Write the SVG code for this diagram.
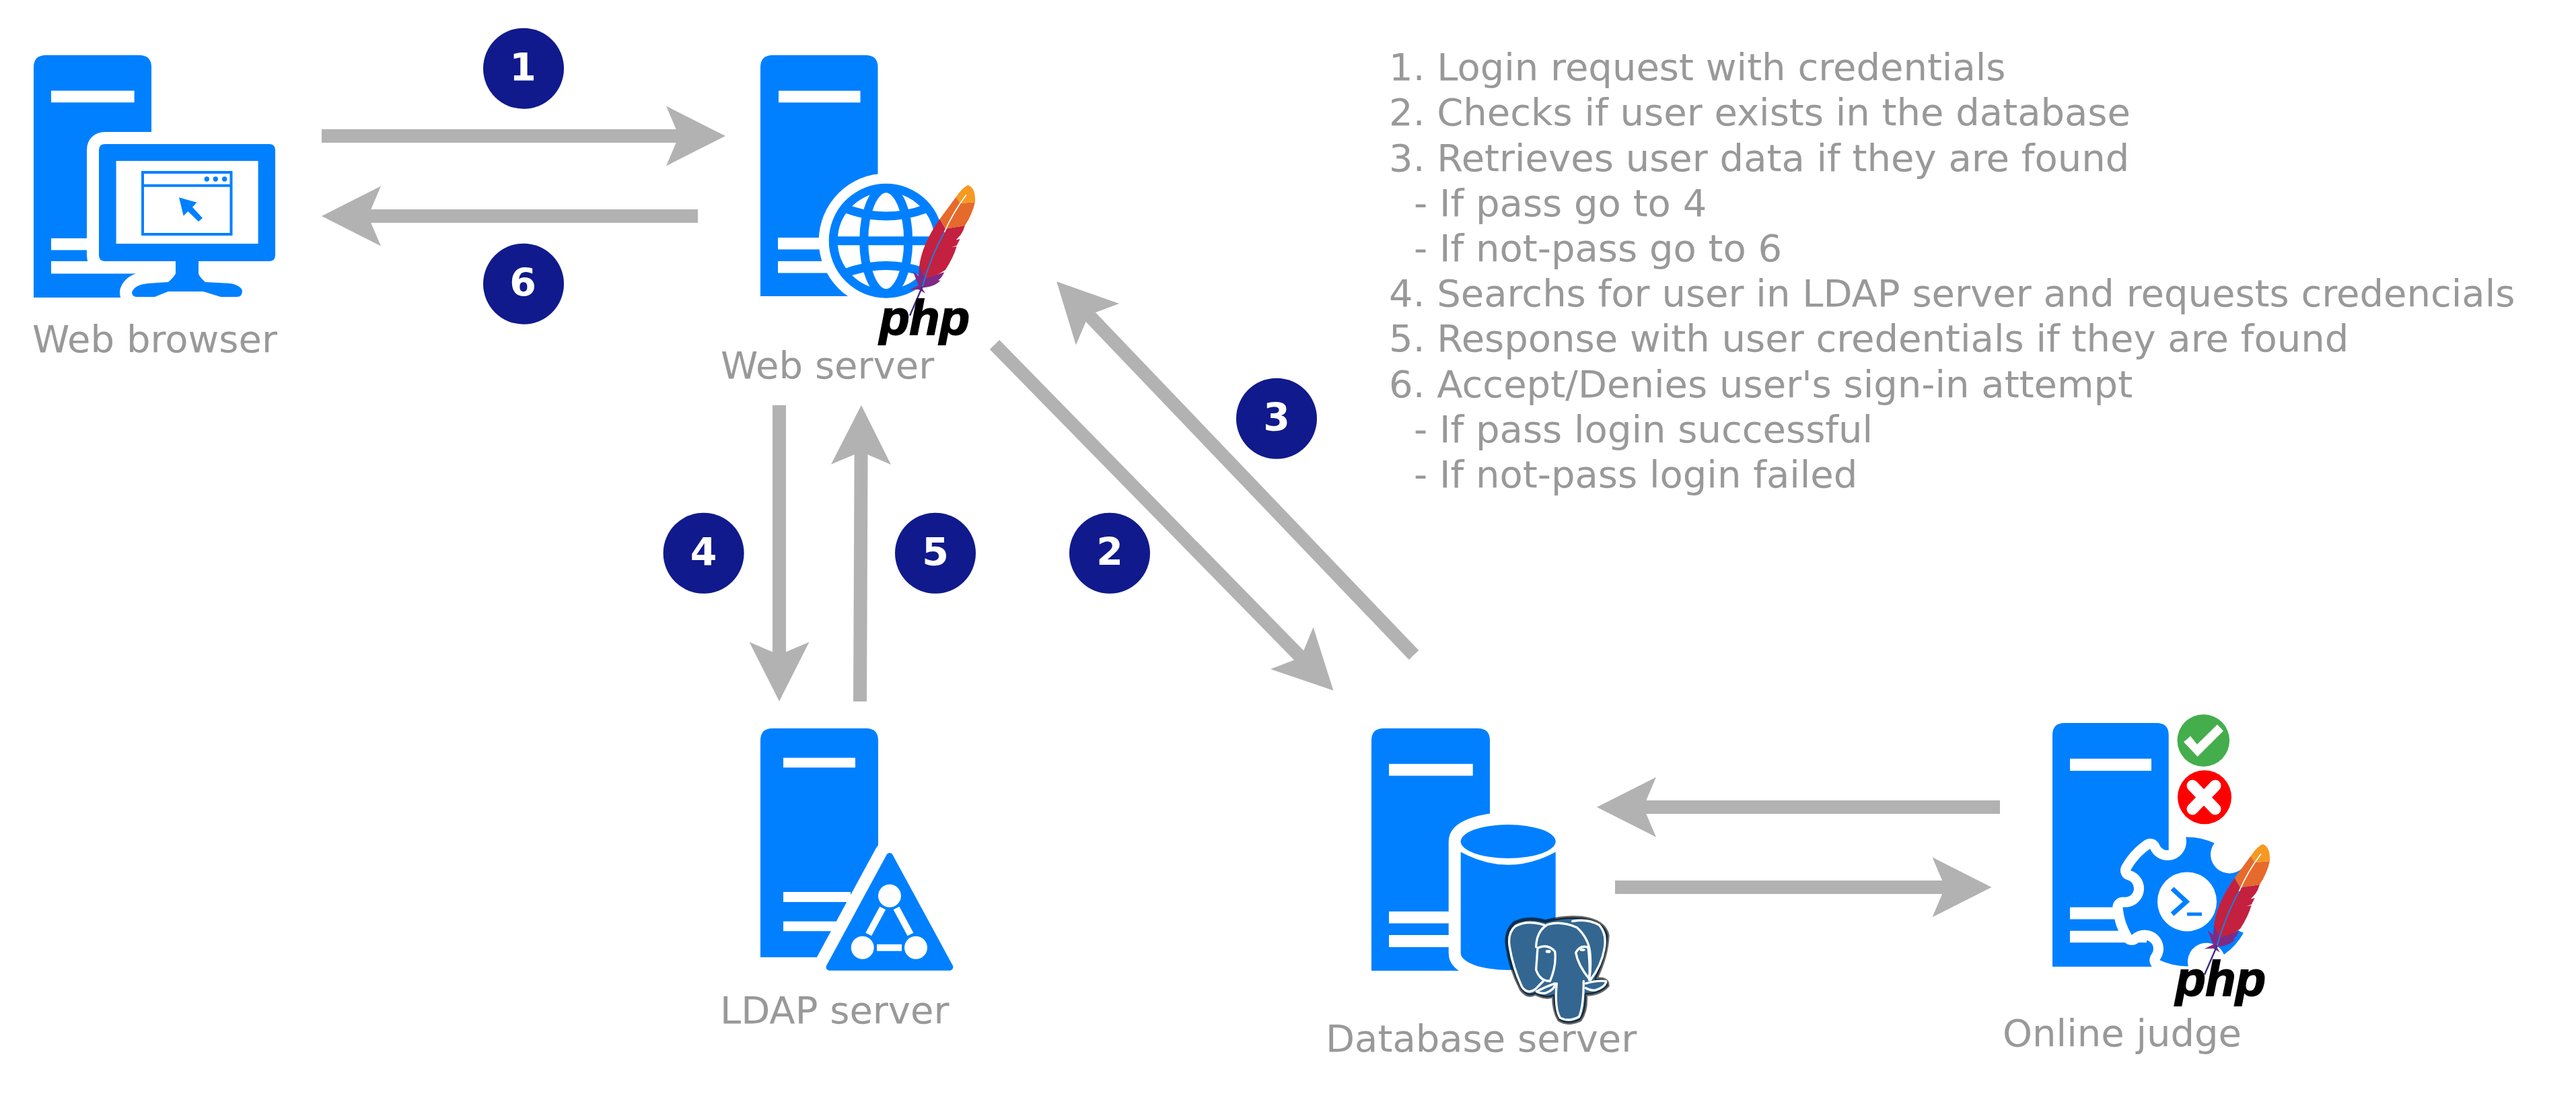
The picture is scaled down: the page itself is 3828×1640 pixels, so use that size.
<svg xmlns="http://www.w3.org/2000/svg" xmlns:xlink="http://www.w3.org/1999/xlink" width="3828" height="1640" viewBox="0 0 3828 1640">
<style>
.b{fill:#0080ff}
.w{fill:#fff}
.h{fill:#fff;stroke:#fff;stroke-linejoin:round}
.a{fill:none;stroke:#b2b2b2;stroke-width:20}
.t{font-family:"DejaVu Sans","Liberation Sans",sans-serif;font-size:56px;fill:#999}
.n{font-family:"DejaVu Sans","Liberation Sans",sans-serif;font-size:57px;font-weight:700;fill:#fff;text-anchor:middle}
.c{fill:#101a8c}
.p{font-family:"Liberation Sans",Arial,sans-serif;font-size:73px;font-weight:700;font-style:italic;fill:#000;stroke:#000;stroke-width:2}
.el{fill:none;stroke:#fff;stroke-width:10;stroke-linejoin:round;stroke-linecap:round}
</style>
<defs>
<marker id="ah" markerUnits="userSpaceOnUse" markerWidth="92" markerHeight="92" viewBox="0 -46 92 92" refX="68" refY="0" orient="auto">
<path d="M88 0L0 44.5L19 0L0 -44.5Z" fill="#b2b2b2"/>
</marker>
<g id="feather"><g transform="translate(1050 40) scale(.3333 .3589)">
<path fill="#7f2a84" d="M948 992L975 1040L1060 1015Q1048 1040 1033 1048L1042 1050Q1020 1075 960 1080L975 1103L945 1087L905 1088L945 1070L920 1012L945 1030Z"/>
<path fill="#c4203f" d="M1040 795L1065 835L1152 822Q1145 845 1133 860L1112 882L1130 878L1115 905L1093 911L1115 908Q1100 955 1065 1005Q1030 1030 975 1040L948 992Q960 900 1040 795Z"/>
<path fill="#e66a2b" d="M1040 795L1113 703L1130 730L1197 725Q1185 775 1152 822L1065 835Z"/>
<path fill="#f69923" d="M1113 703Q1140 665 1165 655Q1200 665 1197 725L1130 730Z"/>
<path fill="none" stroke="#fff" stroke-width="5" d="M1060 850Q1100 765 1158 695"/>
<path fill="none" stroke="#1c7fe0" stroke-width="6" d="M962 1075Q1000 950 1060 850"/>
<path fill="none" stroke="#3b2a86" stroke-width="7" d="M962 1075L906 1195"/>
</g></g>
</defs>

<g id="connectors">
<path class="a" marker-end="url(#ah)" d="M478 202H1058"/>
<path class="a" marker-end="url(#ah)" d="M1037 321H498"/>
<path class="a" marker-end="url(#ah)" d="M1478 512L1967.400 1011.400"/>
<path class="a" marker-end="url(#ah)" d="M2101 973L1584 432.700"/>
<path class="a" marker-end="url(#ah)" d="M1158 602V1021.700"/>
<path class="a" marker-end="url(#ah)" d="M1278 1042L1279.800 622"/>
<path class="a" marker-end="url(#ah)" d="M2972 1199H2393"/>
<path class="a" marker-end="url(#ah)" d="M2400 1318H2939.500"/>
</g>

<g id="web-browser">
<path class="b" d="M50 442V100Q50 82 68 82H207Q225 82 225 100V442Z"/>
<rect class="w" x="76" y="134.700" width="123.600" height="17.500"/>
<rect class="w" x="76" y="354" width="120" height="17.500"/>
<rect class="w" x="76" y="388" width="160" height="18.500"/>
<path class="h" stroke-width="36" d="M156 214H400Q409 214 409 223V379Q409 388 400 388H295V406Q295 410 305 419L342 421Q358 424 360 432Q360 441 352 441H203Q196 441 196 434Q200 423 220 421L250 419Q260 410 261 406V388H156Q147 388 147 379V223Q147 214 156 214Z"/>
<rect class="w" x="226" y="200" width="200" height="20"/>
<rect class="w" x="225" y="420" width="160" height="40"/>
<path class="b" d="M156 214H400Q409 214 409 223V379Q409 388 400 388H295V406Q295 410 305 419L342 421Q358 424 360 432Q360 441 352 441H328L302 433H250L230 441H203Q196 441 196 434Q200 423 220 421L250 419Q260 410 261 406V388H156Q147 388 147 379V223Q147 214 156 214Z"/>
<rect class="w" x="172.600" y="239" width="211" height="123"/>
<rect x="212" y="256" width="131.500" height="92" fill="none" stroke="#0080ff" stroke-width="4"/>
<rect class="b" x="212" y="273.700" width="131.500" height="4"/>
<circle class="b" cx="307.300" cy="266" r="3.700"/><circle class="b" cx="320.300" cy="266" r="3.700"/><circle class="b" cx="333.700" cy="266" r="3.700"/>
<path class="b" d="M266 293.300L292.300 300.700L286 307.700L301 324L295 329L279.300 314L272.700 320.700Z"/>
<text class="t" x="48" y="523">Web browser</text>
</g>

<g id="web-server">
<path class="b" d="M1130 440V100Q1130 82 1148 82H1286.500Q1304.500 82 1304.500 100V440Z"/>
<rect class="w" x="1157" y="134.800" width="121.500" height="17.500"/>
<rect class="w" x="1156" y="353" width="80" height="17.500"/>
<rect class="w" x="1156" y="388" width="80" height="17.500"/>
<circle class="w" cx="1316.700" cy="357.700" r="100"/>
<g fill="none" stroke="#0080ff" stroke-width="13">
<circle cx="1316.700" cy="357.700" r="78.500"/>
<ellipse cx="1316.700" cy="357.700" rx="33" ry="78"/>
<path d="M1238 357.700H1395"/>
<path d="M1257 310Q1317 332 1376 310"/>
<path d="M1257 405.400Q1317 383.400 1376 405.400"/>
</g>
<use href="#feather"/>
<text class="p" x="1307" y="497">php</text>
<text class="t" x="1071" y="562">Web server</text>
</g>

<g id="ldap-server">
<path class="b" d="M1130 1422V1100Q1130 1082 1148 1082H1287Q1305 1082 1305 1100V1422Z"/>
<rect class="w" x="1164" y="1125.700" width="107" height="14.500"/>
<rect class="w" x="1164" y="1325" width="100" height="15"/>
<rect class="w" x="1164" y="1368.700" width="80" height="14.500"/>
<path class="h" stroke-width="47" d="M1322 1272L1411.400 1436.700H1232.600Z"/>
<rect class="w" x="1200" y="1422" width="230" height="30"/>
<path class="b" stroke="#0080ff" stroke-width="10" stroke-linejoin="round" d="M1322 1272L1411.400 1436.700H1232.600Z"/>
<g class="w">
<circle cx="1322" cy="1330.700" r="17"/><circle cx="1281.700" cy="1407.700" r="17"/><circle cx="1361" cy="1407.700" r="17"/>
</g>
<path fill="none" stroke="#fff" stroke-width="10" d="M1290.700 1388L1311.700 1349M1332 1349L1353 1388M1303 1407.700H1340"/>
<text class="t" x="1070" y="1520">LDAP server</text>
</g>

<g id="database-server">
<path class="b" d="M2038 1442V1100Q2038 1082 2056 1082H2196Q2214 1082 2214 1100V1442Z"/>
<rect class="w" x="2064" y="1134.800" width="124.700" height="17.600"/>
<rect class="w" x="2064" y="1354" width="100" height="17.600"/>
<rect class="w" x="2064" y="1389" width="100" height="18"/>
<path class="h" stroke-width="36" d="M2170.700 1250A70.500 25 0 0 1 2311.700 1250V1416A70.500 25 0 0 1 2170.700 1416Z"/>
<path class="b" d="M2170.700 1265.600Q2241 1304 2311.700 1265.600V1416A70.500 25 0 0 1 2170.700 1416Z"/>
<ellipse class="b" cx="2241.200" cy="1250" rx="70.500" ry="25"/>
<g transform="translate(1960 1060) scale(.3333 .3398)">
<path fill="#336791" stroke="#000" stroke-opacity=".6" stroke-width="14" stroke-linejoin="round" d="M1010 908Q930 885 870 915Q830 950 837 1010Q850 1110 900 1205Q930 1245 965 1225Q1010 1250 1045 1235Q1045 1300 1070 1340Q1110 1365 1165 1340Q1195 1300 1190 1228Q1250 1230 1288 1190Q1290 1155 1235 1160Q1285 1060 1288 970Q1275 905 1170 892Q1090 885 1010 908Z"/>
<path class="el" d="M1005 925Q930 900 875 930Q840 960 850 1020Q865 1110 905 1195Q930 1230 965 1205L1000 1170"/>
<path class="el" d="M968 1020Q970 950 1020 922Q1080 905 1150 935Q1200 980 1208 1040Q1215 1100 1205 1165"/>
<path class="el" d="M1060 1180Q1050 1290 1075 1330Q1115 1350 1160 1325Q1180 1280 1180 1170"/>
<path class="el" d="M1130 908Q1200 895 1250 925Q1285 965 1272 1030Q1260 1100 1210 1165"/>
<path class="el" d="M975 1025Q1020 1005 1052 1040Q1060 1100 1030 1170Q985 1170 968 1120L975 1025"/>
<path class="el" d="M1145 1045Q1165 1010 1200 1022Q1210 1100 1205 1160Q1155 1100 1145 1045Z"/>
<path class="el" d="M970 1215Q1010 1195 1052 1180Q1055 1205 1010 1222Q985 1225 970 1215Z"/>
<path class="el" d="M1190 1180Q1240 1165 1280 1170Q1280 1195 1230 1210Q1205 1210 1190 1200"/>
<ellipse class="w" cx="1022" cy="1040" rx="12" ry="7"/>
<ellipse class="w" cx="1175" cy="1033" rx="12" ry="6"/>
</g>
<text class="t" x="1970" y="1562">Database server</text>
</g>

<g id="online-judge">
<path class="b" d="M3050 1436V1092Q3050 1074 3068 1074H3204.700Q3222.700 1074 3222.700 1092V1436Z"/>
<rect class="w" x="3076" y="1127" width="121" height="18"/>
<rect class="w" x="3076" y="1347.700" width="90" height="17.800"/>
<rect class="w" x="3076" y="1382.700" width="114" height="17.500"/>
<path class="h" stroke-width="30" d="M3248.200 1243.400A96 96 0 0 1 3290.700 1252.500A28 28 0 0 0 3332.200 1289.800A96 96 0 0 1 3345.600 1331.200A28 28 0 0 0 3334 1385.800A96 96 0 0 1 3304.900 1418.100A28 28 0 0 0 3251.800 1435.400A96 96 0 0 1 3209.300 1426.300A28 28 0 0 0 3167.800 1389A96 96 0 0 1 3154.400 1347.600A28 28 0 0 0 3166 1293A96 96 0 0 1 3195.100 1260.700A28 28 0 0 0 3248.200 1243.400Z"/>
<path class="b" d="M3248.200 1243.400A96 96 0 0 1 3290.700 1252.500A28 28 0 0 0 3332.200 1289.800A96 96 0 0 1 3345.600 1331.200A28 28 0 0 0 3334 1385.800A96 96 0 0 1 3304.900 1418.100A28 28 0 0 0 3251.800 1435.400A96 96 0 0 1 3209.300 1426.300A28 28 0 0 0 3167.800 1389A96 96 0 0 1 3154.400 1347.600A28 28 0 0 0 3166 1293A96 96 0 0 1 3195.100 1260.700A28 28 0 0 0 3248.200 1243.400Z"/>
<circle class="w" cx="3250" cy="1339.400" r="44"/>
<path fill="none" stroke="#0080ff" stroke-width="7" d="M3228 1320L3249 1339.500L3228 1358"/>
<rect class="b" x="3250" y="1355.500" width="22" height="5"/>
<circle cx="3274.300" cy="1100" r="38.800" fill="#43ae4b"/>
<path class="w" d="M3245 1102.300L3255 1093.600L3265 1105.800L3295 1076.300L3304 1085.700L3265.700 1124Z"/>
<circle cx="3276" cy="1184.300" r="40" fill="#f00"/>
<path fill="none" stroke="#fff" stroke-width="17" stroke-linecap="round" d="M3258 1167L3292 1202M3292 1167L3258 1202"/>
<use href="#feather" transform="translate(1924 979)"/>
<text class="p" x="3233" y="1479">php</text>
<text class="t" x="2976" y="1554">Online judge</text>
</g>

<g id="badges">
<g id="badge-1"><circle class="c" cx="778" cy="101.700" r="60"/><text class="n" x="777" y="120">1</text></g>
<g id="badge-6"><circle class="c" cx="778" cy="421.700" r="60"/><text class="n" x="777" y="440">6</text></g>
<g id="badge-4"><circle class="c" cx="1045.600" cy="821.700" r="60"/><text class="n" x="1045.600" y="840">4</text></g>
<g id="badge-5"><circle class="c" cx="1390" cy="821.700" r="60"/><text class="n" x="1390" y="840">5</text></g>
<g id="badge-2"><circle class="c" cx="1649" cy="821.700" r="60"/><text class="n" x="1649" y="840">2</text></g>
<g id="badge-3"><circle class="c" cx="1897" cy="621.700" r="60"/><text class="n" x="1897" y="640">3</text></g>
</g>

<g id="legend">
<text class="t" x="2064" y="119">1. Login request with credentials</text>
<text class="t" x="2064" y="186.200">2. Checks if user exists in the database</text>
<text class="t" x="2064" y="254">3. Retrieves user data if they are found</text>
<text class="t" x="2101" y="320.600">- If pass go to 4</text>
<text class="t" x="2101" y="387.800">- If not-pass go to 6</text>
<text class="t" x="2064" y="455">4. Searchs for user in LDAP server and requests credencials</text>
<text class="t" x="2064" y="522.200">5. Response with user credentials if they are found</text>
<text class="t" x="2064" y="590">6. Accept/Denies user's sign-in attempt</text>
<text class="t" x="2101" y="656.600">- If pass login successful</text>
<text class="t" x="2101" y="723.800">- If not-pass login failed</text>
</g>
</svg>
